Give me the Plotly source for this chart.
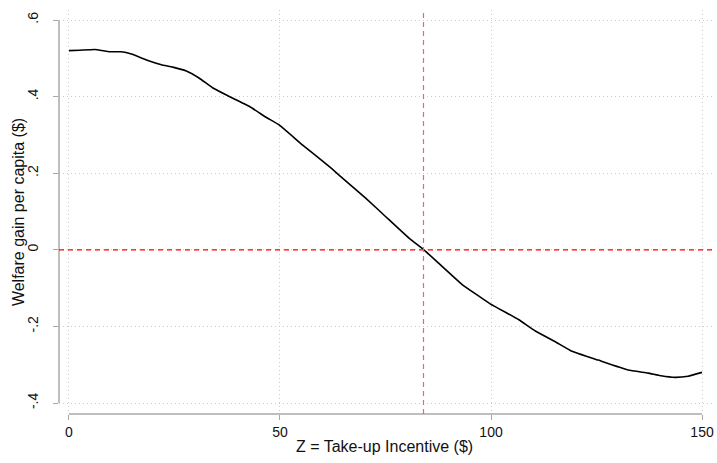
import plotly.graph_objects as go

# Data
z_incentive = [0, 2.6, 6.1, 9.7, 12.4, 14.8, 18.7, 21.9, 24.6, 27.8, 30.9, 34.0, 37.3,
               42.8, 46.7, 49.8, 55.3, 61.7, 64.8, 70.3, 75.0, 80.5, 84.1, 87.6, 93.1,
               99.8, 106.5, 110.5, 115.2, 119.0, 125.4, 132.5, 137.2, 140.3, 143.6,
               146.7, 150]
welfare_gain = [0.520, 0.521, 0.523, 0.517, 0.517, 0.511, 0.494, 0.483, 0.477, 0.467,
                0.448, 0.423, 0.404, 0.374, 0.346, 0.326, 0.274, 0.217, 0.187, 0.135,
                0.087, 0.031, 0.0, -0.035, -0.090, -0.141, -0.182, -0.212, -0.240,
                -0.264, -0.288, -0.314, -0.322, -0.329, -0.333, -0.330, -0.320]

x_ticks = [0, 50, 100, 150]
x_tick_labels = ["0", "50", "100", "150"]
y_ticks = [-0.4, -0.2, 0, 0.2, 0.4, 0.6]
y_tick_labels = ["-.4", "-.2", "0", ".2", ".4", ".6"]
breakeven_z = 84
x_title = "Z = Take-up Incentive ($)"
y_title = "Welfare gain per capita ($)"

FONT = "Liberation Sans, Arial, sans-serif"
AXIS_GRAY = "#a8a8a8"
GRID_GRAY = "#cccccc"

fig = go.Figure()
fig.add_trace(go.Scatter(
    x=z_incentive, y=welfare_gain, mode="lines",
    line=dict(color="black", width=1.6, shape="spline", smoothing=0.3),
    cliponaxis=False, showlegend=False, hoverinfo="skip"))

shapes = [
    # detached axis lines (span tick range only)
    dict(type="line", xref="x", yref="paper", x0=x_ticks[0], x1=x_ticks[-1], y0=0, y1=0,
         line=dict(color=AXIS_GRAY, width=1.5)),
    dict(type="line", xref="paper", yref="y", x0=0, x1=0, y0=y_ticks[0], y1=y_ticks[-1],
         line=dict(color=AXIS_GRAY, width=1.5)),
    # reference lines
    dict(type="line", xref="paper", yref="y", x0=0, x1=1, y0=0, y1=0,
         line=dict(color="#ff0000", width=1.3, dash="5px,4px"), layer="above"),
    dict(type="line", xref="x", yref="paper", x0=breakeven_z, x1=breakeven_z, y0=0, y1=1,
         line=dict(color="rgb(226,98,160)", width=1.2, dash="5px,4px"), layer="above"),
]

fig.update_layout(
    width=717, height=463,
    margin=dict(l=59, r=3, t=10, b=49),
    paper_bgcolor="white", plot_bgcolor="white",
    font=dict(family=FONT, color="#222222"),
    shapes=shapes,
    annotations=[
        dict(text=x_title, xref="paper", yref="paper", x=0.499, y=-0.081,
             xanchor="center", yanchor="middle", showarrow=False,
             font=dict(size=16, family=FONT, color="#111111")),
        dict(text=y_title, xref="paper", yref="paper", x=-0.0626, y=0.5,
             xanchor="center", yanchor="middle", textangle=-90, showarrow=False,
             font=dict(size=16, family=FONT, color="#111111")),
    ],
    xaxis=dict(
        range=[-2.362, 152.36], tickvals=x_ticks, ticktext=x_tick_labels,
        ticks="outside", ticklen=5, tickcolor=AXIS_GRAY, tickwidth=1.2,
        showline=False, zeroline=False,
        showgrid=True, gridcolor=GRID_GRAY, griddash="1px,3px", gridwidth=1,
        tickfont=dict(size=14, family=FONT, color="#111111"),
    ),
    yaxis=dict(
        range=[-0.4287, 0.6261], tickvals=y_ticks, ticktext=y_tick_labels,
        tickangle=-90,
        ticks="outside", ticklen=5, tickcolor=AXIS_GRAY, tickwidth=1.2,
        showline=False, zeroline=False,
        showgrid=True, gridcolor=GRID_GRAY, griddash="1px,3px", gridwidth=1,
        tickfont=dict(size=14, family=FONT, color="#111111"),
        ticklabelstandoff=9,
    ),
)

fig.write_html("out.html")
